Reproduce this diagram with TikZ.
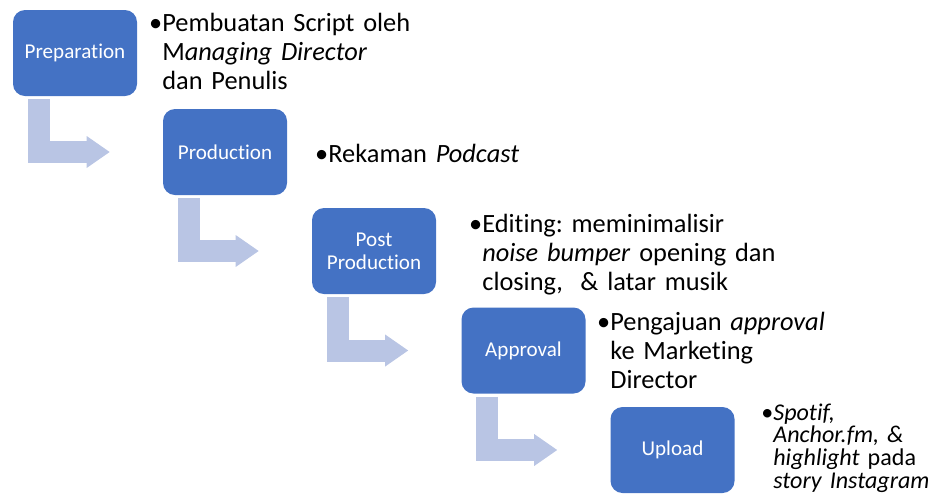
\documentclass[tikz,border=0pt]{standalone}
\usepackage{fontspec}
\setmainfont{Carlito}[Ligatures=NoCommon]
\usepackage{tikz}
\usetikzlibrary{positioning, arrows.meta}
\usepackage{xcolor}
\definecolor{stepblue}{HTML}{4472C4}
\definecolor{flowblue}{HTML}{B9C5E4}
\frenchspacing

\begin{document}
\begin{tikzpicture}[
      stage/.style={rounded corners=0.24cm, fill=stepblue, text=white,
                    minimum width=2.48cm, minimum height=1.72cm, inner sep=0pt,
                    align=center, font=\fontsize{12}{13}\selectfont},
      note/.style={anchor=base west, inner sep=0pt, text width=6cm, align=left,
                   font=\fontsize{15}{16.5}\selectfont},
      smallnote/.style={note, font=\fontsize{13.7}{12.9}\selectfont},
      flow/.style={draw=flowblue, line width=0.44cm, line join=miter,
                   -{Triangle[length=0.46cm, width=0.64cm, line width=0pt]}},
    ]
    \useasboundingbox (0,0) rectangle (18.66,-10.04);

    % Steps
    \node[stage] (prep) at (1.50,-1.06)  {Preparation};
    \node[stage] (prod) at (4.50,-3.04)  {Production};
    \node[stage] (post) at (7.48,-5.02)  {Post\\Production};
    \node[stage] (appr) at (10.47,-7.01) {Approval};
    \node[stage] (upl)  at (13.45,-9.00) {Upload};

    % Notes
    \node[note] (n1) at (3.24,-0.634) {\llap{•}Pembuatan Script oleh\\
      M\textit{anaging Director}\\ dan Penulis};
    \node[note] (n2) at (6.56,-3.24) {\llap{•}Rekaman \textit{Podcast}};
    \node[note] (n3) at (9.64,-4.64) {\llap{•}Editing: meminimalisir\\
      \textit{noise bumper} opening dan\\ closing,\ \ \& latar musik};
    \node[note] (n4) at (12.20,-6.60) {\llap{•}Pengajuan \textit{approval}\\
      ke Marketing\\ Director};
    \node[smallnote] (n5) at (15.46,-8.40) {\llap{•}\textit{Spotif,}\\
      \textit{Anchor.fm, \&}\\ \textit{highlight} pada\\ \textit{story Instagram}};

    \draw[flow] ([xshift=0.52cm, yshift=-0.06cm]prep.south west) |- ([xshift=-1.06cm]prod.west);
    \draw[flow] ([xshift=0.52cm, yshift=-0.06cm]prod.south west) |- ([xshift=-1.06cm]post.west);
    \draw[flow] ([xshift=0.52cm, yshift=-0.06cm]post.south west) |- ([xshift=-1.06cm]appr.west);
    \draw[flow] ([xshift=0.52cm, yshift=-0.06cm]appr.south west) |- ([xshift=-1.06cm]upl.west);
  \end{tikzpicture}
\end{document}
